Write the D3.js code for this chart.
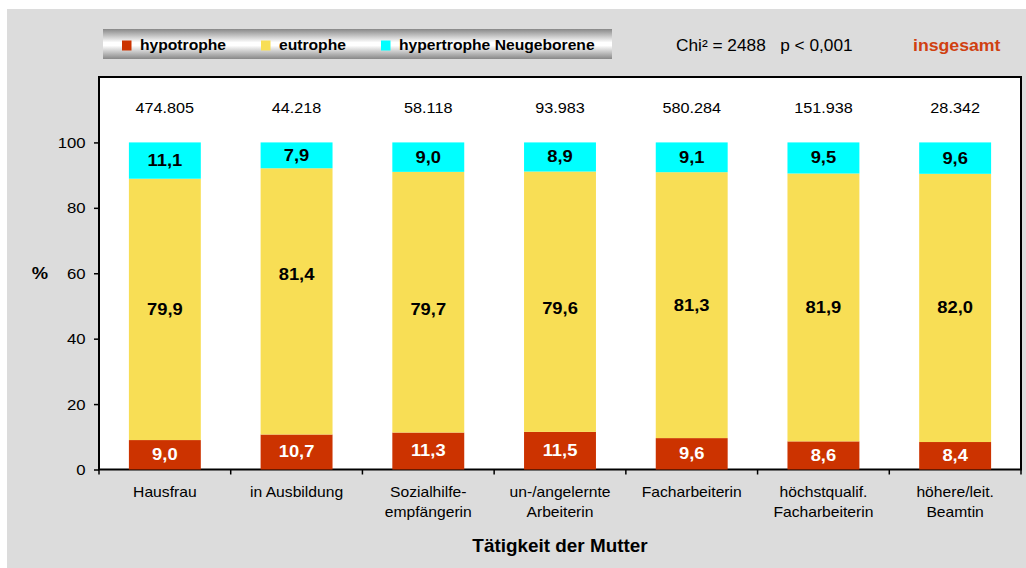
<!DOCTYPE html>
<html>
<head>
<meta charset="utf-8">
<script src="https://cdn.jsdelivr.net/npm/d3@7"></script>
<style>
  body { margin: 0; background: #fff; }
  svg { display: block; font-family: "Liberation Sans", Arial, sans-serif; }
</style>
</head>
<body>
<div id="chart"></div>
<script>
const categories = [
    ['Hausfrau'],
    ['in Ausbildung'],
    ['Sozialhilfe-', 'empfängerin'],
    ['un-/angelernte', 'Arbeiterin'],
    ['Facharbeiterin'],
    ['höchstqualif.', 'Facharbeiterin'],
    ['höhere/leit.', 'Beamtin']
];
const totals = ['474.805', '44.218', '58.118', '93.983', '580.284', '151.938', '28.342'];
const hypotroph = [9.0, 10.7, 11.3, 11.5, 9.6, 8.6, 8.4];
const eutroph = [79.9, 81.4, 79.7, 79.6, 81.3, 81.9, 82.0];
const hypertroph = [11.1, 7.9, 9.0, 8.9, 9.1, 9.5, 9.6];
const seriesNames = ['hypotrophe', 'eutrophe', 'hypertrophe Neugeborene'];
const seriesColors = ['#CC3300', '#F8DE55', '#00FFFF'];
const labelColors = ['#ffffff', '#000000', '#000000'];
const yTicks = [0, 20, 40, 60, 80, 100];

const W = 1026, H = 568;
const plot = { left: 99, top: 77, right: 1021, bottom: 469.5 };
const stretch = 1.08; // text in the original is a bit wider than Liberation Sans

const svg = d3.select('#chart').append('svg')
    .attr('width', W)
    .attr('height', H);

// grey chart area
svg.append('rect')
    .attr('x', 7).attr('y', 9)
    .attr('width', W - 7).attr('height', H - 9)
    .attr('fill', '#DCDCDC');

// plot area
svg.append('rect')
    .attr('x', plot.left).attr('y', plot.top)
    .attr('width', plot.right - plot.left).attr('height', plot.bottom - plot.top)
    .attr('fill', '#ffffff')
    .attr('stroke', '#000')
    .attr('stroke-width', 2);

const x = d3.scaleBand()
    .domain(d3.range(categories.length))
    .range([plot.left, plot.right])
    .paddingInner(0.454)
    .paddingOuter(0.227);

const xb = d3.scaleBand()
    .domain(d3.range(categories.length))
    .range([plot.left, plot.right]);

const y = d3.scaleLinear()
    .domain([0, 120])
    .range([plot.bottom, plot.top]);

// stacked data
const rows = categories.map((c, i) => ({
    i,
    hypotrophe: hypotroph[i],
    eutrophe: eutroph[i],
    'hypertrophe Neugeborene': hypertroph[i]
}));
const stack = d3.stack().keys(seriesNames)(rows);

// the original places the second eutrophe label higher than centre
const nudge = (k, i) => (k === 1 && i === 1 ? -27 : (k === 1 && (i === 2 || i === 3) ? 7 : 0));

stack.forEach((layer, k) => {
    const g = svg.append('g');
    g.selectAll('rect')
        .data(layer)
        .enter()
        .append('rect')
        .attr('x', d => x(d.data.i))
        .attr('y', d => y(d[1]))
        .attr('width', x.bandwidth())
        .attr('height', d => y(d[0]) - y(d[1]))
        .attr('fill', seriesColors[k]);

    g.selectAll('text')
        .data(layer)
        .enter()
        .append('text')
        .attr('class', 'stretch')
        .text(d => d3.format('.1f')(d[1] - d[0]).replace('.', ','))
        .attr('x', d => x(d.data.i) + x.bandwidth() / 2)
        .attr('y', d => (y(d[0]) + y(d[1])) / 2 + 1 + nudge(k, d.data.i))
        .attr('text-anchor', 'middle')
        .attr('dominant-baseline', 'middle')
        .style('font-weight', 'bold')
        .style('font-size', '17px')
        .style('fill', labelColors[k]);
});

// axes
const yAxis = svg.append('g')
    .attr('transform', `translate(${plot.left},0)`)
    .call(d3.axisLeft(y).tickValues(yTicks).tickSize(5).tickPadding(8));
yAxis.select('.domain').remove();
yAxis.selectAll('line').attr('stroke', '#000').attr('stroke-width', 1.5);
yAxis.selectAll('text')
    .style('font-size', '15.5px')
    .style('font-family', '"Liberation Sans", Arial, sans-serif')
    .style('fill', '#000');

const xAxis = svg.append('g')
    .attr('transform', `translate(0,${plot.bottom})`)
    .call(d3.axisBottom(xb).tickValues([]).tickSize(0));
xAxis.select('.domain').remove();
xAxis.selectAll('.sep')
    .data(d3.range(categories.length + 1))
    .enter()
    .append('line')
    .attr('x1', i => plot.left + i * xb.step())
    .attr('x2', i => plot.left + i * xb.step())
    .attr('y1', 0).attr('y2', 5)
    .attr('stroke', '#000')
    .attr('stroke-width', 1.5);

// category labels
categories.forEach((lines, i) => {
    const t = svg.append('text')
        .attr('class', 'stretch')
        .attr('x', xb(i) + xb.bandwidth() / 2)
        .attr('y', 497)
        .attr('text-anchor', 'middle')
        .style('font-size', '14.5px')
        .style('fill', '#000');
    lines.forEach((l, j) => {
        t.append('tspan')
            .attr('x', xb(i) + xb.bandwidth() / 2)
            .attr('dy', j === 0 ? 0 : 20)
            .text(l);
    });
});

// totals above bars
svg.selectAll('.total')
    .data(totals)
    .enter()
    .append('text')
    .attr('class', 'stretch')
    .text(d => d)
    .attr('x', (d, i) => xb(i) + xb.bandwidth() / 2)
    .attr('y', 113)
    .attr('text-anchor', 'middle')
    .style('font-size', '15px')
    .style('fill', '#000');

// axis titles
svg.append('text')
    .attr('class', 'stretch')
    .text('Tätigkeit der Mutter')
    .attr('x', 560).attr('y', 552)
    .attr('text-anchor', 'middle')
    .style('font-weight', 'bold')
    .style('font-size', '17.5px');

svg.append('text')
    .attr('class', 'stretch')
    .text('%')
    .attr('x', 40).attr('y', 279)
    .attr('text-anchor', 'middle')
    .style('font-weight', 'bold')
    .style('font-size', '17px');

// legend
const defs = svg.append('defs');
const grad = defs.append('linearGradient')
    .attr('id', 'legendGrad')
    .attr('x1', 0).attr('y1', 0).attr('x2', 0).attr('y2', 1);
grad.append('stop').attr('offset', '0%').attr('stop-color', '#888');
grad.append('stop').attr('offset', '45%').attr('stop-color', '#fff');
grad.append('stop').attr('offset', '55%').attr('stop-color', '#fff');
grad.append('stop').attr('offset', '100%').attr('stop-color', '#888');

svg.append('rect')
    .attr('x', 103).attr('y', 29)
    .attr('width', 509).attr('height', 30)
    .attr('fill', 'url(#legendGrad)');

const legendX = [122, 261, 381];
seriesNames.forEach((name, k) => {
    svg.append('rect')
        .attr('x', legendX[k]).attr('y', 40.5)
        .attr('width', 9.5).attr('height', 10)
        .attr('fill', seriesColors[k]);
    svg.append('text')
        .attr('class', 'stretch-left')
        .text(name)
        .attr('x', legendX[k] + 18).attr('y', 50.5)
        .style('font-weight', 'bold')
        .style('font-size', '14.5px')
        .style('fill', '#000');
});

svg.append('text')
    .attr('class', 'stretch-left')
    .text('Chi² = 2488   p < 0,001')
    .attr('x', 676).attr('y', 51)
    .attr('xml:space', 'preserve')
    .style('white-space', 'pre')
    .style('font-size', '16px')
    .style('fill', '#000');

svg.append('text')
    .attr('class', 'stretch-left')
    .text('insgesamt')
    .attr('x', 913).attr('y', 51)
    .style('font-weight', 'bold')
    .style('font-size', '16.4px')
    .style('fill', '#D04010');

// widen text horizontally around its anchor point
svg.selectAll('text.stretch, text.stretch-left, .tick text').each(function() {
    const el = d3.select(this);
    let ax;
    if (this.closest('.tick')) {
        ax = -8;
    } else {
        ax = +el.attr('x');
    }
    const prev = el.attr('transform') || '';
    el.attr('transform', `${prev} translate(${ax},0) scale(${stretch},1) translate(${-ax},0)`);
});
</script>
</body>
</html>
